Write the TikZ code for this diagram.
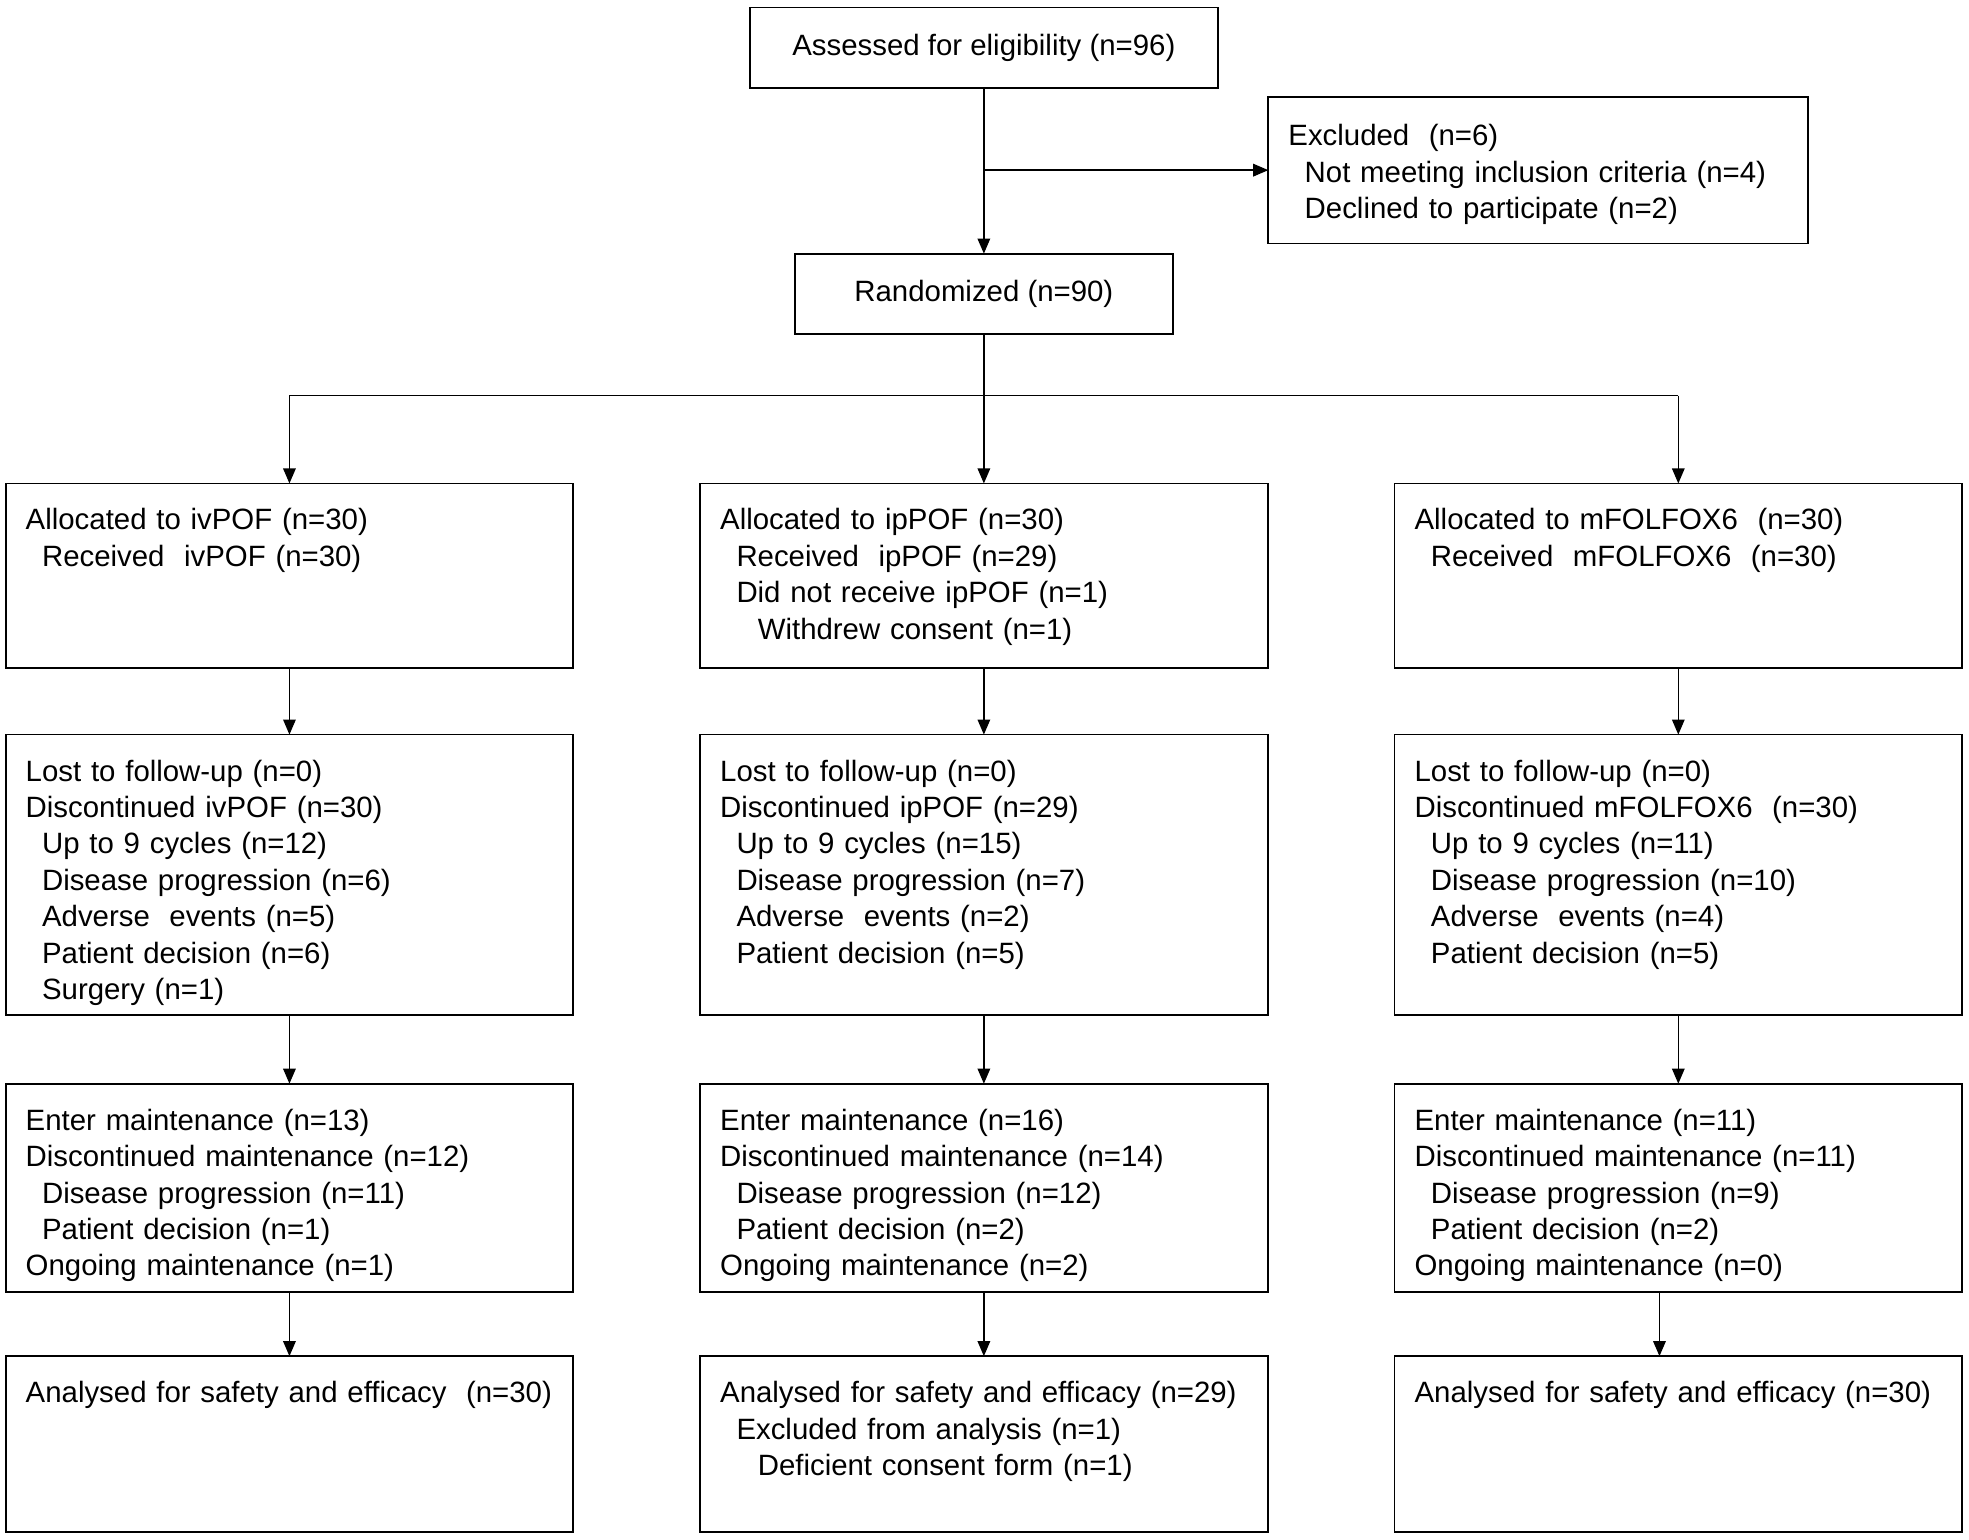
\documentclass[tikz,border=0pt]{standalone}
\usepackage{fontspec}
\setmainfont{Liberation Sans}
\usetikzlibrary{arrows.meta, positioning}
\tikzstyle{topBox} = [draw, rectangle, line width=0.7pt, inner sep=0pt, outer sep=0pt,
   minimum height=32pt, align=center]
\tikzstyle{armBox} = [draw, rectangle, line width=0.7pt, inner xsep=8pt, inner ysep=0pt,
   outer sep=0pt, text width=210pt, align=left, text height=18.5pt]
\tikzstyle{flowLine} = [line width=0.55pt]
\tikzstyle{flowArrow} = [line width=0.55pt, -{Triangle[length=6pt,width=5pt]}]
\newcommand{\subone}{\hspace*{6.5pt}}
\newcommand{\subtwo}{\hspace*{15pt}}

\begin{document}
\begin{tikzpicture}[font=\fontsize{11.7pt}{14.5pt}\selectfont]
  \useasboundingbox (0,0) rectangle (784pt,-612.8pt);

  \node[topBox, minimum width=186.5pt] (assess) at (391.75pt,-19pt) {Assessed for eligibility (n=96)};
  \node[topBox, minimum width=150.5pt, below=66pt of assess] (rand) {Randomized (n=90)};
  \node[armBox, text width=199pt, text height=19.5pt, text depth=39pt, anchor=north west] (excl) at (505pt,-38.5pt)
    {Excluded~ (n=6)\\ \subone Not meeting inclusion criteria (n=4)\\ \subone Declined to participate (n=2)};

  % 1st row: allocation
  \node[armBox, text depth=55pt, below=59.5pt of rand] (ipalloc)
    {Allocated to ipPOF (n=30)\\ \subone Received~ ipPOF (n=29)\\ \subone Did not receive ipPOF (n=1)\\ \subtwo Withdrew consent (n=1)};
  \node[armBox, text depth=55pt, left=50.5pt of ipalloc] (ivalloc)
    {Allocated to ivPOF (n=30)\\ \subone Received~ ivPOF (n=30)};
  \node[armBox, text depth=55pt, right=50.5pt of ipalloc] (mfalloc)
    {Allocated to mFOLFOX6~ (n=30)\\ \subone Received~ mFOLFOX6~ (n=30)};

  % 2nd row: discontinued treatment
  \node[armBox, text depth=93pt, below=26.5pt of ivalloc] (ivdisc)
    {Lost to follow-up (n=0)\\ Discontinued ivPOF (n=30)\\ \subone Up to 9 cycles (n=12)\\ \subone Disease progression (n=6)\\
     \subone Adverse~ events (n=5)\\ \subone Patient decision (n=6)\\ \subone Surgery (n=1)};
  \node[armBox, text depth=93pt, below=26.5pt of ipalloc] (ipdisc)
    {Lost to follow-up (n=0)\\ Discontinued ipPOF (n=29)\\ \subone Up to 9 cycles (n=15)\\ \subone Disease progression (n=7)\\
     \subone Adverse~ events (n=2)\\ \subone Patient decision (n=5)};
  \node[armBox, text depth=93pt, below=26.5pt of mfalloc] (mfdisc)
    {Lost to follow-up (n=0)\\ Discontinued mFOLFOX6~ (n=30)\\ \subone Up to 9 cycles (n=11)\\ \subone Disease progression (n=10)\\
     \subone Adverse~ events (n=4)\\ \subone Patient decision (n=5)};

  % 3rd row: maintenance
  \node[armBox, text depth=64.5pt, below=27.5pt of ivdisc] (ivmaint)
    {Enter maintenance (n=13)\\ Discontinued maintenance (n=12)\\ \subone Disease progression (n=11)\\
     \subone Patient decision (n=1)\\ Ongoing maintenance (n=1)};
  \node[armBox, text depth=64.5pt, below=27.5pt of ipdisc] (ipmaint)
    {Enter maintenance (n=16)\\ Discontinued maintenance (n=14)\\ \subone Disease progression (n=12)\\
     \subone Patient decision (n=2)\\ Ongoing maintenance (n=2)};
  \node[armBox, text depth=64.5pt, below=27.5pt of mfdisc] (mfmaint)
    {Enter maintenance (n=11)\\ Discontinued maintenance (n=11)\\ \subone Disease progression (n=9)\\
     \subone Patient decision (n=2)\\ Ongoing maintenance (n=0)};

  % 4th row: analysis
  \node[armBox, text depth=51.5pt, below=25.5pt of ivmaint] (ivanal)
    {Analysed for safety and efficacy~ (n=30)};
  \node[armBox, text depth=51.5pt, below=25.5pt of ipmaint] (ipanal)
    {Analysed for safety and efficacy (n=29)\\ \subone Excluded from analysis (n=1)\\ \subtwo Deficient consent form (n=1)};
  \node[armBox, text depth=51.5pt, below=25.5pt of mfmaint] (mfanal)
    {Analysed for safety and efficacy (n=30)};

  % arrows
  \draw[flowArrow] (assess) -- (rand);
  \draw[flowArrow] (assess.south |- excl.west) -- (excl.west);
  \draw[flowLine] (rand.south) -- ++(0,-24.5pt) coordinate (split); % branch point
  \draw[flowLine] (ivalloc.north |- split) -- (mfalloc.north |- split);
  \draw[flowArrow] (ivalloc.north |- split) -- (ivalloc.north);
  \draw[flowArrow] (split) -- (ipalloc.north);
  \draw[flowArrow] (mfalloc.north |- split) -- (mfalloc.north);
  \draw[flowArrow] (ivalloc) -- (ivdisc);
  \draw[flowArrow] (ipalloc) -- (ipdisc);
  \draw[flowArrow] (mfalloc) -- (mfdisc);
  \draw[flowArrow] (ivdisc) -- (ivmaint);
  \draw[flowArrow] (ipdisc) -- (ipmaint);
  \draw[flowArrow] (mfdisc) -- (mfmaint);
  \draw[flowArrow] (ivmaint) -- (ivanal);
  \draw[flowArrow] (ipmaint) -- (ipanal);
  \draw[flowArrow] ([xshift=-7.5pt]mfmaint.south) -- ([xshift=-7.5pt]mfanal.north);
\end{tikzpicture}
\end{document}
